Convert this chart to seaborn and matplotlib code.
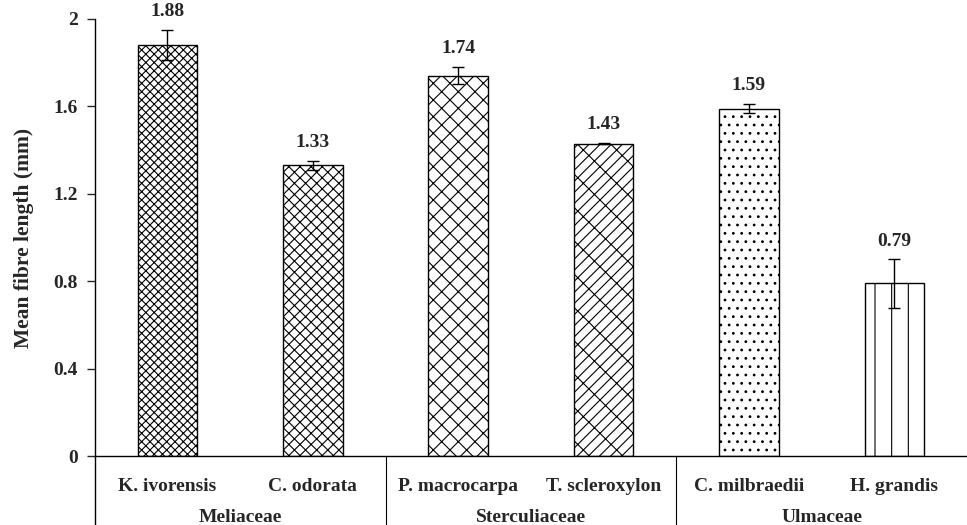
import seaborn as sns
import matplotlib.pyplot as plt
import pandas as pd

# Data
species = ['K. ivorensis', 'C. odorata', 'P. macrocarpa', 'T. scleroxylon', 'C. milbraedii', 'H. grandis']
families = ['Meliaceae', 'Sterculiaceae', 'Ulmaceae']
mean_length = [1.88, 1.33, 1.74, 1.43, 1.59, 0.79]
err = [0.07, 0.02, 0.04, 0.003, 0.02, 0.11]
hatches = ['xxxx', 'xxx', 'xx', '///\\', '..', '|']

df = pd.DataFrame({'Species': species, 'Length': mean_length})

sns.set_style('white')
plt.rcParams['font.family'] = ['Liberation Serif', 'DejaVu Serif']
plt.rcParams['font.weight'] = 'bold'
plt.rcParams['hatch.linewidth'] = 0.8

fig = plt.figure(figsize=(9.67, 5.25), dpi=100)
ax = fig.add_axes([0.098, 0.131, 0.902, 0.833])
sns.barplot(x='Species', y='Length', data=df, color='white', edgecolor='black',
            linewidth=1.0, width=0.41, errorbar=None, ax=ax)
for bar, h in zip(ax.patches, hatches):
    bar.set_hatch(h)

ax.errorbar(range(len(species)), mean_length, yerr=err, fmt='none', ecolor='black',
            elinewidth=1, capsize=4, capthick=1)

# value labels
for i, v in enumerate(mean_length):
    ax.text(i, v + err[i] + 0.045, f'{v:.2f}', ha='center', va='bottom', fontsize=14, fontweight='bold')

ax.set_ylim(0, 2)
ax.set_xlim(-0.5, len(species) - 0.5)
ax.set_yticks([0, 0.4, 0.8, 1.2, 1.6, 2.0])
ax.set_yticklabels(['0', '0.4', '0.8', '1.2', '1.6', '2'], fontsize=14, fontweight='bold')
ax.tick_params(axis='y', left=True, length=6, width=1, pad=6)
ax.set_xticks([])
ax.set_xlabel('')
ax.set_ylabel('Mean fibre length (mm)', fontsize=15.5, fontweight='bold', labelpad=14)
for s in ['top', 'right']:
    ax.spines[s].set_visible(False)
for s in ['left', 'bottom']:
    ax.spines[s].set_linewidth(1)
    ax.spines[s].set_color('black')

# species labels and family groups below the axis
trans = ax.get_xaxis_transform()
for i, name in enumerate(species):
    ax.text(i, -0.069, name, transform=trans, ha='center', va='center', fontsize=14, fontweight='bold')
for g, fam in enumerate(families):
    ax.text(2 * g + 0.5, -0.141, fam, transform=trans, ha='center', va='center', fontsize=14, fontweight='bold')
for xb in [-0.5, 1.5, 3.5]:
    ax.plot([xb, xb], [0, -0.16], transform=trans, color='black', lw=1 if xb < 0 else 0.8,
            clip_on=False)

plt.savefig('out.png', dpi=100)
